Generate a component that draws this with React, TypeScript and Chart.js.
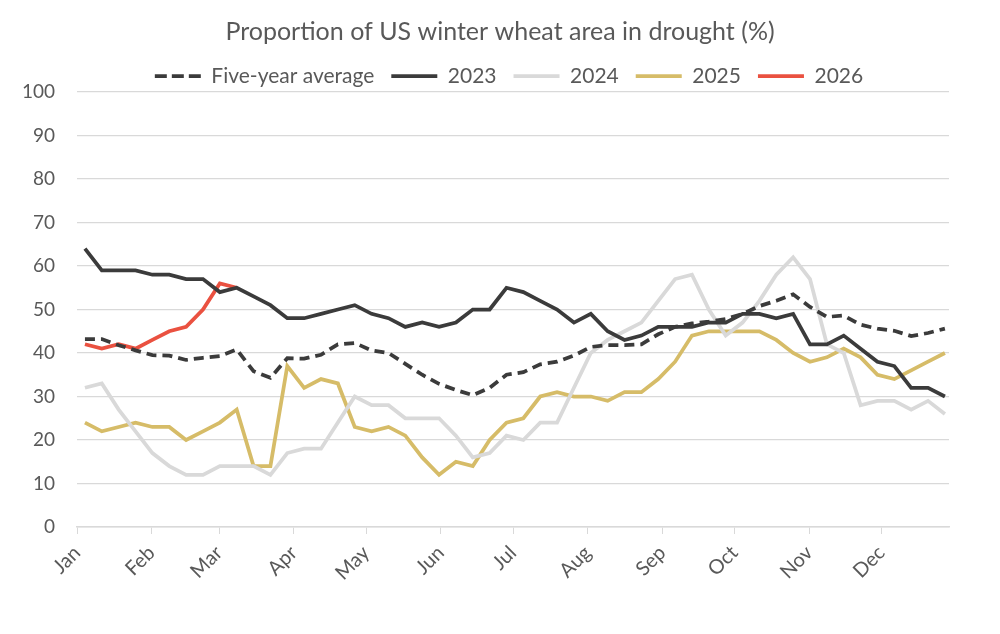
import React, { useEffect, useRef } from "react";
import { Chart, registerables } from "chart.js";

Chart.register(...registerables);

const title = "Proportion of US winter wheat area in drought (%)";
const monthLabels = ["Jan", "Feb", "Mar", "Apr", "May", "Jun", "Jul", "Aug", "Sep", "Oct", "Nov", "Dec"];
const monthStartDays = [0, 31, 59, 90, 120, 151, 181, 212, 243, 273, 304, 334];
const firstWeekDay = 3.3;
const yTicks = [0, 10, 20, 30, 40, 50, 60, 70, 80, 90, 100];

const fiveYearAvg = [
  43.2, 43.2, 41.8, 40.6, 39.5, 39.4, 38.4, 38.9, 39.3, 40.8, 35.8, 34.3, 38.8, 38.7, 39.6, 42.0, 42.3, 40.6,
  40.0, 37.5, 35.0, 32.9, 31.5, 30.3, 32.0, 35.0, 35.6, 37.4, 38.0, 39.4, 41.4, 41.8, 41.8, 42.0, 44.3, 46.0,
  46.8, 47.2, 47.8, 49.0, 50.8, 52.0, 53.5, 50.6, 48.3, 48.6, 46.5, 45.6, 45.1, 43.9, 44.6, 45.6,
];
const y2023 = [
  64, 59, 59, 59, 58, 58, 57, 57, 54, 55, 53, 51, 48, 48, 49, 50, 51, 49, 48, 46, 47, 46, 47, 50, 50, 55,
  54, 52, 50, 47, 49, 45, 43, 44, 46, 46, 46, 47, 47, 49, 49, 48, 49, 42, 42, 44, 41, 38, 37, 32, 32, 30,
];
const y2024 = [
  32, 33, 27, 22, 17, 14, 12, 12, 14, 14, 14, 12, 17, 18, 18, 24, 30, 28, 28, 25, 25, 25, 21, 16, 17, 21,
  20, 24, 24, 32, 40, 43, 45, 47, 52, 57, 58, 50, 44, 47, 52, 58, 62, 57, 42, 40, 28, 29, 29, 27, 29, 26,
];
const y2025 = [
  24, 22, 23, 24, 23, 23, 20, 22, 24, 27, 14, 14, 37, 32, 34, 33, 23, 22, 23, 21, 16, 12, 15, 14, 20, 24,
  25, 30, 31, 30, 30, 29, 31, 31, 34, 38, 44, 45, 45, 45, 45, 43, 40, 38, 39, 41, 39, 35, 34, 36, 38, 40,
];
const y2026 = [42, 41, 42, 41, 43, 45, 46, 50, 56, 55];

const seriesNames = ["Five-year average", "2023", "2024", "2025", "2026"];
const seriesColors = ["#3b3b3b", "#3b3b3b", "#d9d9d9", "#d6bc68", "#ea5140"];

const toPoints = (vals: number[]) => vals.map((v, i) => ({ x: firstWeekDay + 7 * i, y: v }));

const TEXT = "#595959";
const GRID = "#d9d9d9";

const legendShift = {
  id: "legendShift",
  afterLayout(chart: any) {
    const l = chart.legend;
    if (l) {
      l.top += 4.5;
      l.bottom += 4.5;
      l.left += 9;
      l.right += 9;
    }
  },
};

export default function App() {
  const ref = useRef<HTMLCanvasElement | null>(null);
  useEffect(() => {
    if (!ref.current) return;
    Chart.defaults.font.family = "Lato";
    const all = [fiveYearAvg, y2023, y2024, y2025, y2026];
    const chart = new Chart(ref.current, {
      type: "line",
      data: {
        datasets: all.map((vals, k) => ({
          label: seriesNames[k],
          data: toPoints(vals),
          borderColor: seriesColors[k],
          backgroundColor: seriesColors[k],
          borderWidth: 3.75,
          borderDash: k === 0 ? [10, 6] : [],
          pointRadius: 0,
          pointStyle: "line",
          tension: 0,
          fill: false,
        })),
      },
      options: {
        responsive: false,
        animation: false,
        events: [],
        layout: { padding: 0 },
        plugins: {
          title: {
            display: true,
            text: title,
            color: TEXT,
            font: { size: 25, weight: "normal", lineHeight: 1.0 },
            padding: { top: 19, bottom: 0 },
          },
          legend: {
            display: true,
            position: "top",
            labels: {
              color: TEXT,
              font: { size: 21 },
              usePointStyle: true,
              pointStyle: "line",
              pointStyleWidth: 46,
              boxWidth: 46,
              padding: 17,
              generateLabels: (chart: any) => {
                const base = Chart.defaults.plugins.legend.labels.generateLabels(chart);
                return base.map((item: any) => ({
                  ...item,
                  lineDash: item.datasetIndex === 0 ? [12, 5] : [],
                  lineWidth: 3.75,
                  strokeStyle: seriesColors[item.datasetIndex],
                  lineCap: "butt",
                }));
              },
            },
          },
          tooltip: { enabled: false },
        },
        scales: {
          x: {
            type: "linear",
            min: 0,
            max: 362,
            afterBuildTicks: (scale: any) => {
              scale.ticks = monthStartDays.map((v) => ({ value: v }));
            },
            afterFit: (scale: any) => {
              scale.height = 107;
            },
            ticks: {
              autoSkip: false,
              maxRotation: 45,
              minRotation: 45,
              padding: 7,
              color: TEXT,
              font: { size: 20 },
              callback: (_v: any, i: number) => monthLabels[i],
            },
            grid: {
              display: true,
              drawOnChartArea: false,
              drawTicks: true,
              tickLength: 7,
              color: GRID,
              lineWidth: 1,
            },
            border: { display: true, color: GRID, width: 1.5 },
          },
          y: {
            min: 0,
            max: 100,
            afterBuildTicks: (scale: any) => {
              scale.ticks = yTicks.map((v) => ({ value: v }));
            },
            afterFit: (scale: any) => {
              scale.width = 77;
            },
            ticks: {
              padding: 22,
              color: TEXT,
              font: { size: 19 },
            },
            grid: { color: GRID, lineWidth: 1.25, drawTicks: false },
            border: { display: false },
          },
          y2: {
            position: "right",
            display: true,
            min: 0,
            max: 100,
            afterFit: (scale: any) => {
              scale.width = 51;
            },
            ticks: { display: false },
            grid: { display: false },
            border: { display: false },
          },
        },
      } as any,
      plugins: [legendShift],
    });
    return () => chart.destroy();
  }, []);
  return (
    <div style={{ position: "absolute", left: 0, top: 0, width: 1000, height: 634, background: "#fff" }}>
      <canvas ref={ref} width={1000} height={634} />
    </div>
  );
}
